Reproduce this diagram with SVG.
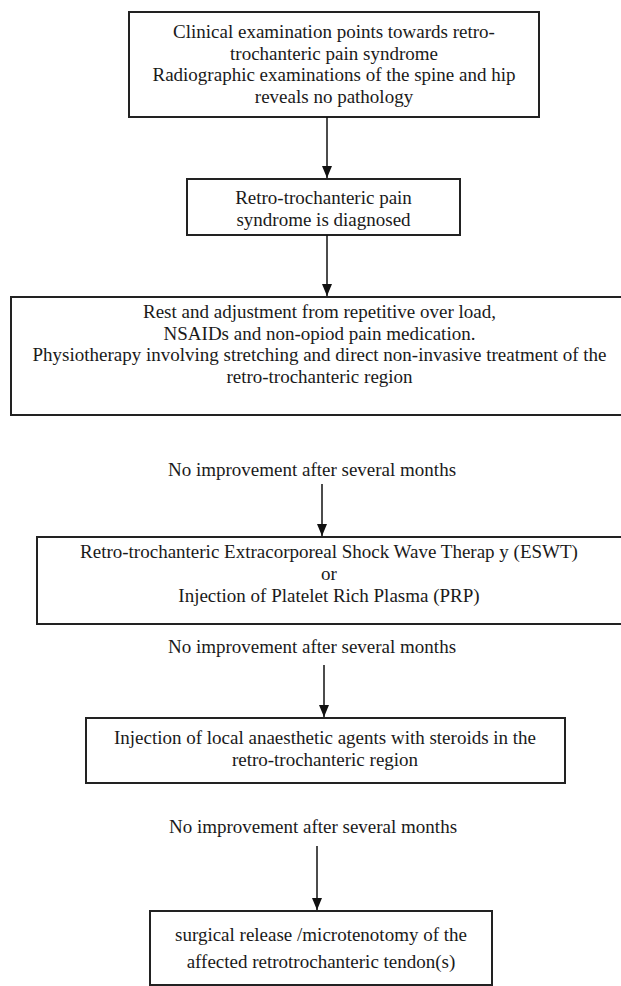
<svg xmlns="http://www.w3.org/2000/svg" width="621" height="986" viewBox="0 0 621 986">
<defs>
<marker id="ah" markerWidth="12" markerHeight="10" refX="12" refY="5" orient="auto" markerUnits="userSpaceOnUse" viewBox="0 0 12 10">
<path d="M0,0 L12,5 L0,10 Z" fill="#111"/>
</marker>
</defs>
<style>
.box{fill:#fff;stroke:#222;stroke-width:2}
.t{font-family:"Liberation Serif","Times New Roman",serif;font-size:19px;fill:#1a1a1a;text-anchor:middle}
.c{stroke:#111;stroke-width:1.5;fill:none}
</style>
<rect width="621" height="986" fill="#fff"/>
<g id="n1">
<rect class="box" x="129" y="12" width="410" height="105"/>
<text class="t" x="334" y="38">Clinical examination points towards retro-</text>
<text class="t" x="334" y="59.5">trochanteric pain syndrome</text>
<text class="t" x="334" y="81">Radiographic examinations of the spine and hip</text>
<text class="t" x="334" y="102.5">reveals no pathology</text>
</g>
<g id="n2">
<rect class="box" x="187" y="179" width="273" height="56"/>
<text class="t" x="323.5" y="204">Retro-trochanteric pain</text>
<text class="t" x="323.5" y="226">syndrome is diagnosed</text>
</g>
<g id="n3">
<rect class="box" x="11" y="297" width="625" height="118"/>
<text class="t" x="319.5" y="318">Rest and adjustment from repetitive over load,</text>
<text class="t" x="319.5" y="340">NSAIDs and non-opiod pain medication.</text>
<text class="t" x="319.5" y="361">Physiotherapy involving stretching and direct non-invasive treatment of the</text>
<text class="t" x="319.5" y="383">retro-trochanteric region</text>
</g>
<g id="l1"><text class="t" x="312" y="476">No improvement after several months</text></g>
<g id="n4">
<rect class="box" x="37" y="537" width="590" height="87"/>
<text class="t" x="329" y="558">Retro-trochanteric Extracorporeal Shock Wave Therap y (ESWT)</text>
<text class="t" x="329" y="580">or</text>
<text class="t" x="329" y="602">Injection of Platelet Rich Plasma (PRP)</text>
</g>
<g id="l2"><text class="t" x="312" y="653">No improvement after several months</text></g>
<g id="n5">
<rect class="box" x="86" y="718" width="479" height="65"/>
<text class="t" x="325" y="744">Injection of local anaesthetic agents with steroids in the</text>
<text class="t" x="325" y="766">retro-trochanteric region</text>
</g>
<g id="l3"><text class="t" x="313" y="833">No improvement after several months</text></g>
<g id="n6">
<rect class="box" x="150" y="911" width="342" height="74"/>
<text class="t" x="321" y="941">surgical release /microtenotomy of the</text>
<text class="t" x="321" y="968">affected retrotrochanteric tendon(s)</text>
</g>
<g id="connectors">
<line class="c" x1="327" y1="117" x2="327" y2="178" marker-end="url(#ah)"/>
<line class="c" x1="327" y1="235" x2="327" y2="296" marker-end="url(#ah)"/>
<line class="c" x1="322" y1="484" x2="322" y2="536" marker-end="url(#ah)"/>
<line class="c" x1="324" y1="665" x2="324" y2="717" marker-end="url(#ah)"/>
<line class="c" x1="317" y1="846" x2="317" y2="910" marker-end="url(#ah)"/>
</g>
</svg>
